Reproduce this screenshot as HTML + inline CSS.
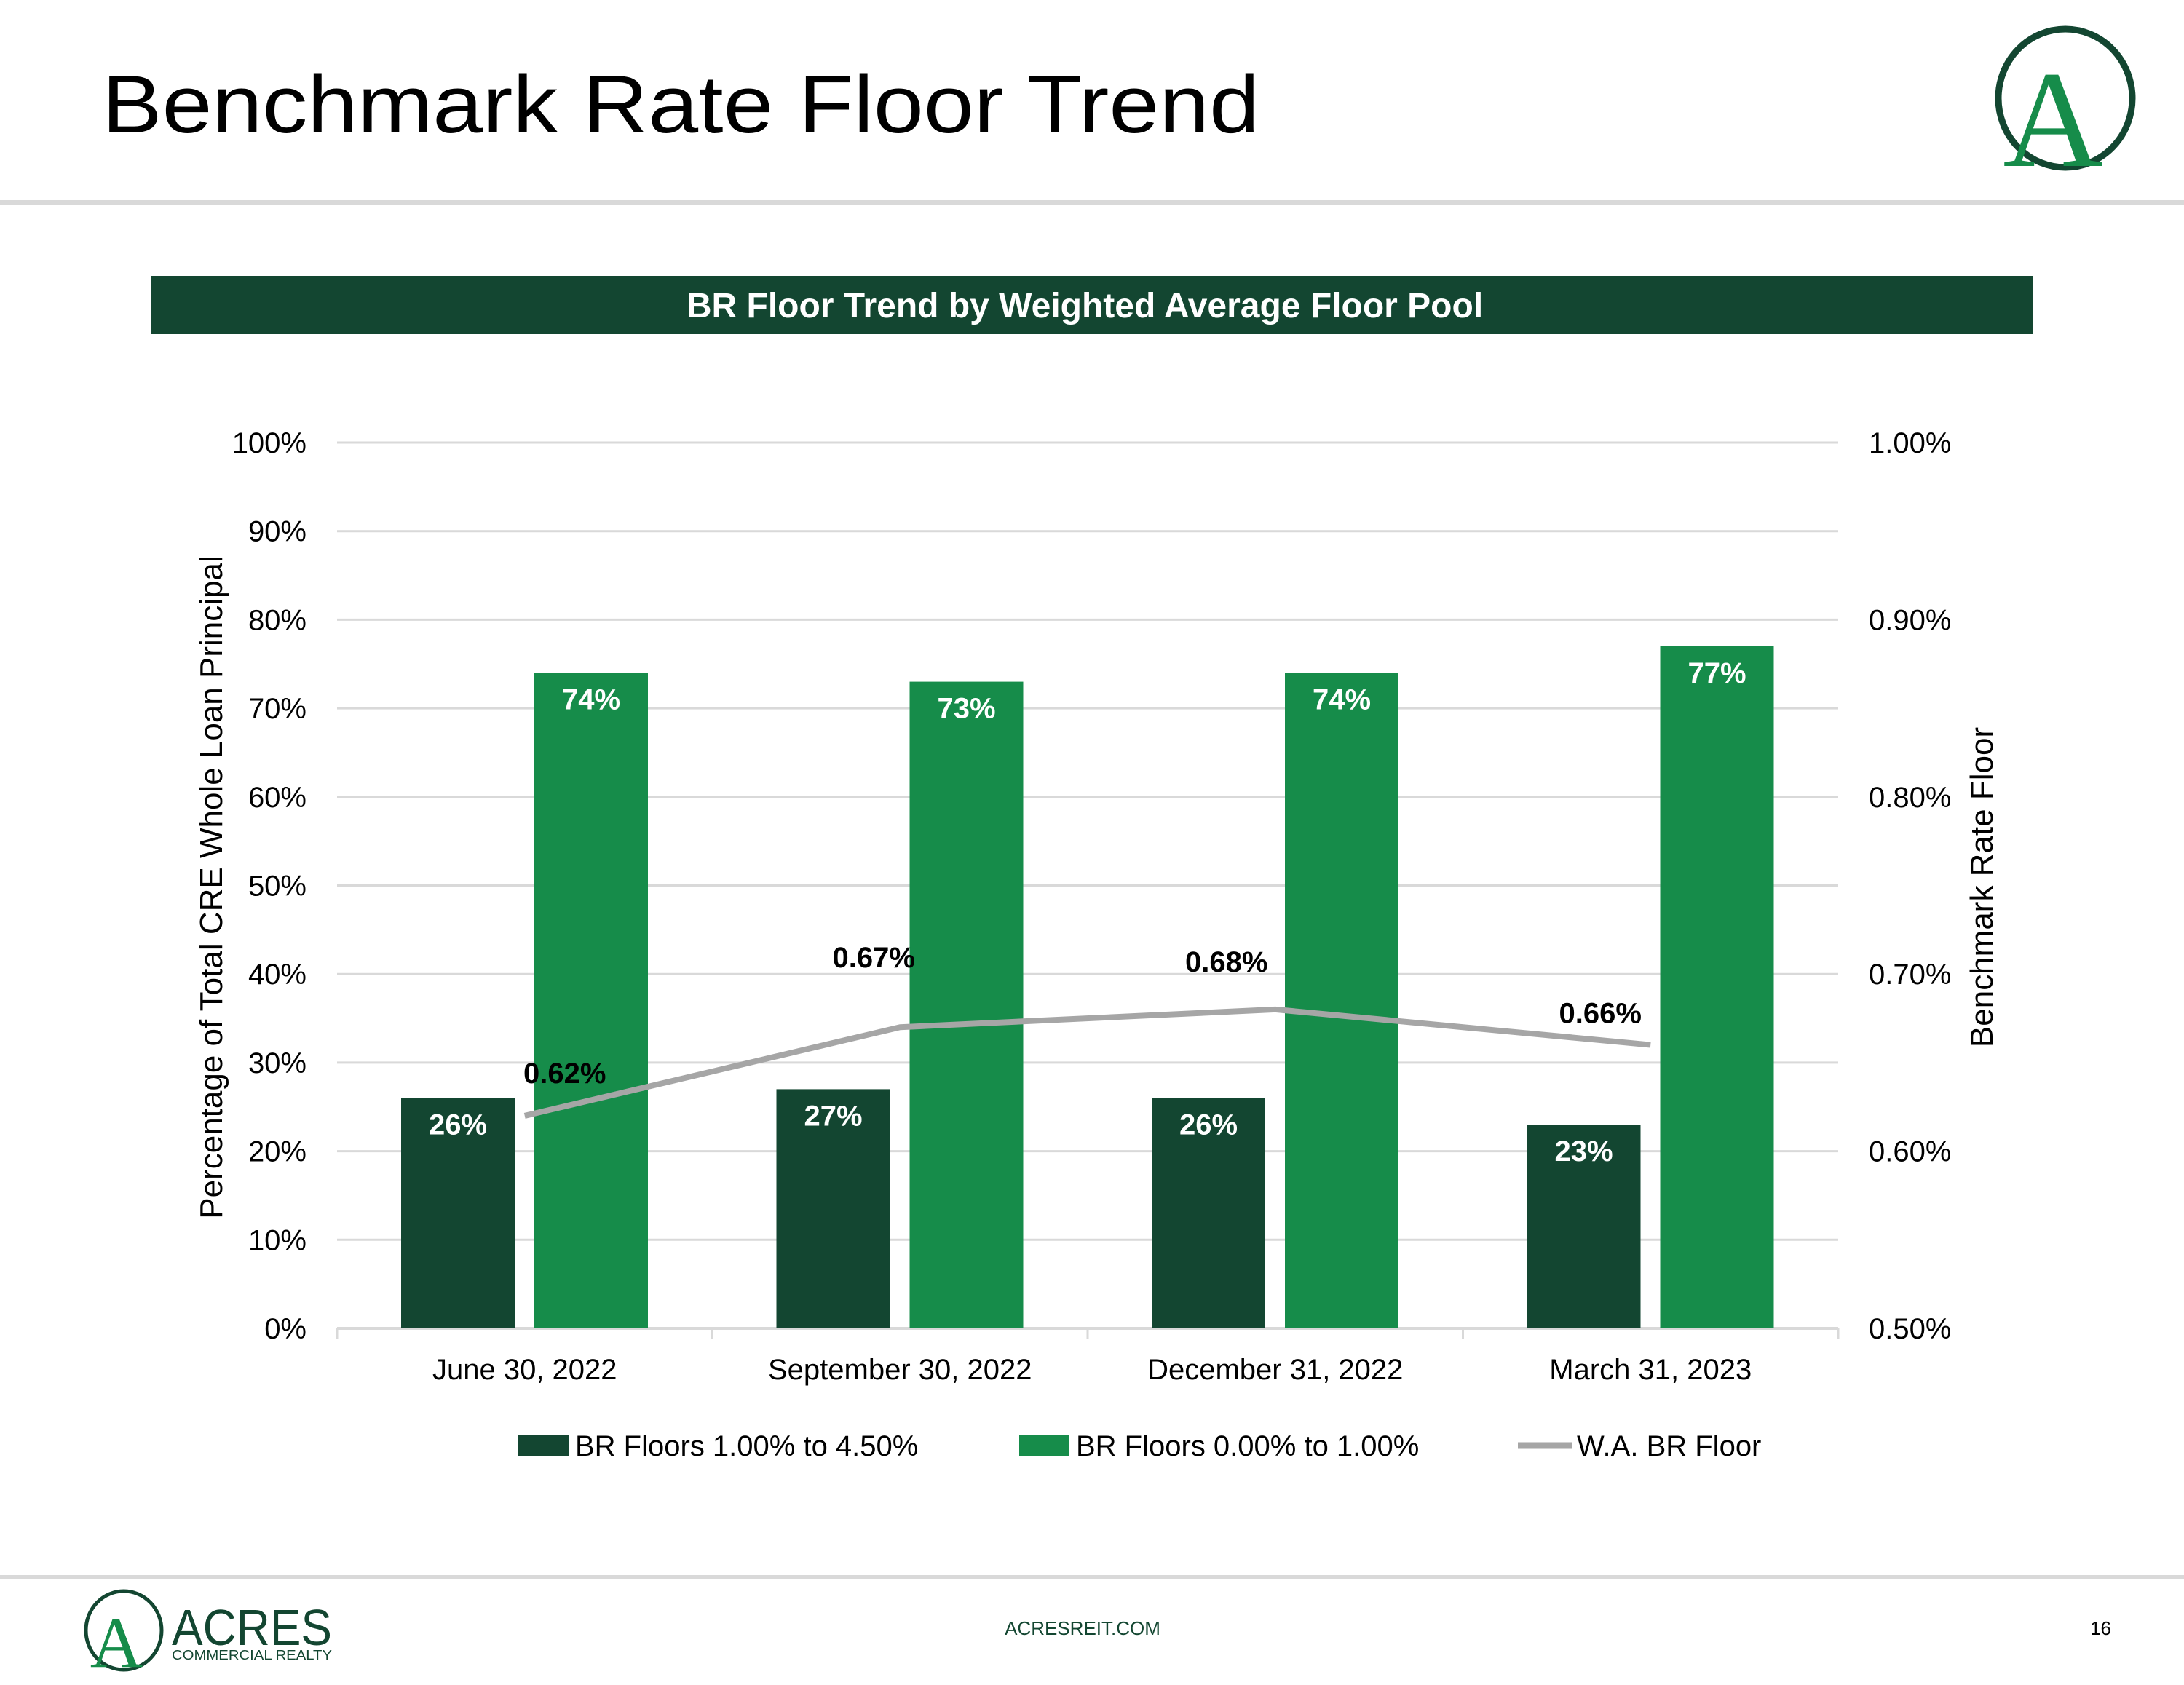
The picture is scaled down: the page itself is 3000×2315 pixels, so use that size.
<!DOCTYPE html>
<html><head><meta charset="utf-8">
<style>
html,body{margin:0;padding:0;background:#fff;}
svg{display:block;font-family:"Liberation Sans",sans-serif;}
</style></head>
<body>
<svg id="chart" width="3000" height="2315" viewBox="0 0 3000 2315" xmlns="http://www.w3.org/2000/svg">
<rect width="3000" height="2315" fill="#fff"/>
<text x="140" y="182" font-size="112" fill="#000" textLength="1590" lengthAdjust="spacingAndGlyphs">Benchmark Rate Floor Trend</text>
<g>
<ellipse cx="2837" cy="135" rx="92" ry="95" fill="none" stroke="#134631" stroke-width="9"/>
<text x="2820" y="228" font-size="190" font-family="Liberation Serif,serif" fill="#168c4a" text-anchor="middle">A</text>
</g>
<rect x="0" y="275" width="3000" height="6" fill="#d9d9d9"/>
<rect x="207" y="379" width="2586" height="80" fill="#134631"/>
<text x="1490" y="436" font-size="48" font-weight="bold" fill="#fff" text-anchor="middle">BR Floor Trend by Weighted Average Floor Pool</text>
<g id="grid"></g>
<g id="bars"></g>
<g id="line"></g>
<g id="labels"></g>
<text transform="translate(305,1219) rotate(-90)" font-size="44" fill="#000" text-anchor="middle">Percentage of Total CRE Whole Loan Principal</text>
<text transform="translate(2737,1219) rotate(-90)" font-size="44" fill="#000" text-anchor="middle">Benchmark Rate Floor</text>
<g>
<rect x="712" y="1972" width="69" height="28" fill="#134631"/>
<text x="790" y="2000" font-size="40" fill="#000">BR Floors 1.00% to 4.50%</text>
<rect x="1400" y="1972" width="69" height="28" fill="#168c4a"/>
<text x="1478" y="2000" font-size="40" fill="#000">BR Floors 0.00% to 1.00%</text>
<line x1="2085" y1="1986" x2="2160" y2="1986" stroke="#a6a6a6" stroke-width="9"/>
<text x="2166" y="2000" font-size="40" fill="#000">W.A. BR Floor</text>
</g>
<rect x="0" y="2164" width="3000" height="6" fill="#d9d9d9"/>
<g>
<ellipse cx="170" cy="2240" rx="52" ry="54" fill="none" stroke="#134631" stroke-width="5"/>
<text x="160" y="2290" font-size="100" font-family="Liberation Serif,serif" fill="#168c4a" text-anchor="middle">A</text>
<text x="236" y="2260" font-size="70" fill="#134631" textLength="220" lengthAdjust="spacingAndGlyphs">ACRES</text>
<text x="236" y="2280" font-size="18" fill="#134631" textLength="220" lengthAdjust="spacingAndGlyphs">COMMERCIAL REALTY</text>
</g>
<text x="1487" y="2246" font-size="26" fill="#134631" text-anchor="middle">ACRESREIT.COM</text>
<text x="2900" y="2246" font-size="26" fill="#000" text-anchor="end">16</text>
</svg>
<script>
const categories = ["June 30, 2022","September 30, 2022","December 31, 2022","March 31, 2023"];
const brFloorsHigh = [26, 27, 26, 23];
const brFloorsLow = [74, 73, 74, 77];
const waFloor = [0.62, 0.67, 0.68, 0.66];
const leftTicks = [0,10,20,30,40,50,60,70,80,90,100];
const rightTicks = [0.50,0.60,0.70,0.80,0.90,1.00];

const NS = "http://www.w3.org/2000/svg";
const X0 = 463, X1 = 2525, Y0 = 1825, Y1 = 608;
const groupW = (X1 - X0) / categories.length;
const barW = 156;
const lblDX = [55, -36, -67, -69];
const lblDY = [-45, -82, -52, -30];
function yL(v){ return Y0 - (v/100)*(Y0-Y1); }
function yR(v){ return Y0 - ((v-0.5)/0.5)*(Y0-Y1); }
function xC(i){ return X0 + groupW*(i+0.5); }
function mk(tag, attrs, parent, text){
  const el = document.createElementNS(NS, tag);
  for (const k in attrs) el.setAttribute(k, attrs[k]);
  if (text !== undefined) el.textContent = text;
  parent.appendChild(el);
  return el;
}
const grid = document.getElementById('grid');
leftTicks.forEach(t => {
  if (t > 0) {
    const g = mk('line', {x1:X0, x2:X1, y1:yL(t), y2:yL(t), stroke:'#d9d9d9', 'stroke-width':3}, grid);
    
    
  }
  const lt = mk('text', {x:421, y:yL(t)+14, 'font-size':40, 'text-anchor':'end', fill:'#000'}, grid, t + '%');
  
  
});
rightTicks.forEach(t => {
  const rt = mk('text', {x:2567, y:yR(t)+14, 'font-size':40, fill:'#000'}, grid, t.toFixed(2) + '%');
  
  
});
const axis = mk('line', {x1:X0, x2:X1, y1:Y0, y2:Y0, stroke:'#d9d9d9', 'stroke-width':4}, grid);


for (let i = 0; i <= categories.length; i++) {
  const tk = mk('line', {x1:X0+groupW*i, x2:X0+groupW*i, y1:Y0, y2:Y0+14, stroke:'#d9d9d9', 'stroke-width':3}, grid);
  
  
}
const bars = document.getElementById('bars');
const labels = document.getElementById('labels');
categories.forEach((c, i) => {
  const gx = X0 + groupW*i;
  const d = mk('rect', {x:gx+88, y:yL(brFloorsHigh[i]), width:barW, height:Y0-yL(brFloorsHigh[i]), fill:'#134631'}, bars);
  
  
  const g = mk('rect', {x:gx+271, y:yL(brFloorsLow[i]), width:barW, height:Y0-yL(brFloorsLow[i]), fill:'#168c4a'}, bars);
  
  
  const dl = mk('text', {x:gx+88+barW/2, y:yL(brFloorsHigh[i])+50, 'font-size':40, 'font-weight':'bold', fill:'#fff', 'text-anchor':'middle'}, labels, brFloorsHigh[i] + '%');
  
  
  const gl = mk('text', {x:gx+271+barW/2, y:yL(brFloorsLow[i])+50, 'font-size':40, 'font-weight':'bold', fill:'#fff', 'text-anchor':'middle'}, labels, brFloorsLow[i] + '%');
  
  
  const cl = mk('text', {x:xC(i), y:1895, 'font-size':40, fill:'#000', 'text-anchor':'middle'}, labels, c);
  
  
});
const lineG = document.getElementById('line');
const pts = waFloor.map((v,i) => xC(i) + ',' + yR(v)).join(' ');
const pl = mk('polyline', {points:pts, fill:'none', stroke:'#a6a6a6', 'stroke-width':8, 'stroke-linejoin':'round'}, lineG);


waFloor.forEach((v,i) => {
  const t = mk('text', {x:xC(i) + lblDX[i], y:yR(v) + lblDY[i], 'font-size':40, 'font-weight':'bold', fill:'#000', 'text-anchor':'middle'}, labels, v.toFixed(2) + '%');
  
  
});
</script>
</body></html>
